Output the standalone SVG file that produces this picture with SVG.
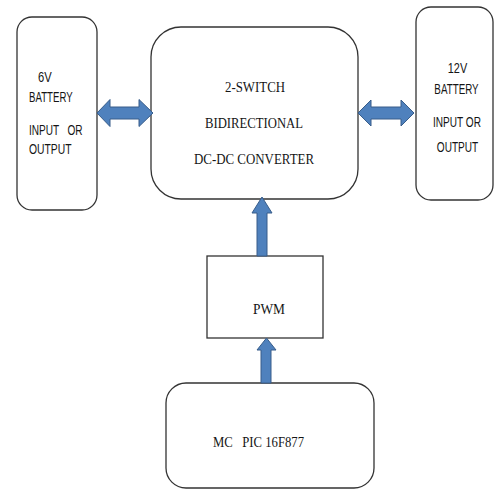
<svg xmlns="http://www.w3.org/2000/svg" width="494" height="489" viewBox="0 0 494 489">
<style>
.box{fill:#fff;stroke:#333;stroke-width:1.3}
.arr{fill:#4f81bd;stroke:#385d8a;stroke-width:1}
.sans{font-family:"Liberation Sans",Arial,sans-serif;font-size:14px;fill:#151515}
.serif{font-family:"Liberation Serif","Times New Roman",serif;font-size:14px;fill:#151515}
</style>
<rect width="494" height="489" fill="#fff"/>
<g id="battery6v">
<rect class="box" x="17" y="17" width="80" height="193" rx="15" ry="15"/>
<text class="sans" transform="translate(38,82) scale(0.8,1)">6V</text>
<text class="sans" transform="translate(29,101.5) scale(0.69,1)">BATTERY</text>
<text class="sans" transform="translate(29,135) scale(0.72,1)" xml:space="preserve">INPUT   OR</text>
<text class="sans" transform="translate(29,153.5) scale(0.74,1)">OUTPUT</text>
</g>
<g id="converter">
<rect class="box" x="151" y="27" width="207" height="172" rx="30" ry="30"/>
<text class="serif" x="255" y="92" text-anchor="middle" textLength="60" lengthAdjust="spacingAndGlyphs">2-SWITCH</text>
<text class="serif" x="254" y="128" text-anchor="middle" textLength="98" lengthAdjust="spacingAndGlyphs">BIDIRECTIONAL</text>
<text class="serif" x="254" y="164" text-anchor="middle" textLength="120" lengthAdjust="spacingAndGlyphs">DC-DC CONVERTER</text>
</g>
<g id="battery12v">
<rect class="box" x="416" y="7" width="77" height="193" rx="15" ry="15"/>
<text class="sans" text-anchor="middle" transform="translate(457.5,72.5) scale(0.78,1)">12V</text>
<text class="sans" text-anchor="middle" transform="translate(456.5,94) scale(0.7,1)">BATTERY</text>
<text class="sans" text-anchor="middle" transform="translate(457,127) scale(0.72,1)">INPUT OR</text>
<text class="sans" text-anchor="middle" transform="translate(457.5,152) scale(0.72,1)">OUTPUT</text>
</g>
<g id="pwm">
<rect class="box" x="207" y="256" width="116" height="82"/>
<text class="serif" x="269" y="314" text-anchor="middle" textLength="32" lengthAdjust="spacingAndGlyphs">PWM</text>
</g>
<g id="mc">
<rect class="box" x="166" y="383" width="208" height="105" rx="20" ry="20"/>
<text class="serif" x="213" y="447" textLength="91" lengthAdjust="spacingAndGlyphs" xml:space="preserve">MC   PIC 16F877</text>
</g>
<g id="connectors">
<path class="arr" d="M97,113 L110,99.5 L110,107 L139,107 L139,99.5 L153,113 L139,126.5 L139,119 L110,119 L110,126.5 Z"/>
<path class="arr" d="M358,113 L371,100 L371,107 L401,107 L401,100 L414,113 L401,126 L401,119 L371,119 L371,126 Z"/>
<path class="arr" d="M262,197 L272,213 L267,213 L267,256 L257,256 L257,213 L252,213 Z"/>
<path class="arr" d="M266.5,338 L276,350 L271,350 L271,383 L261,383 L261,350 L257,350 Z"/>
</g>
</svg>
